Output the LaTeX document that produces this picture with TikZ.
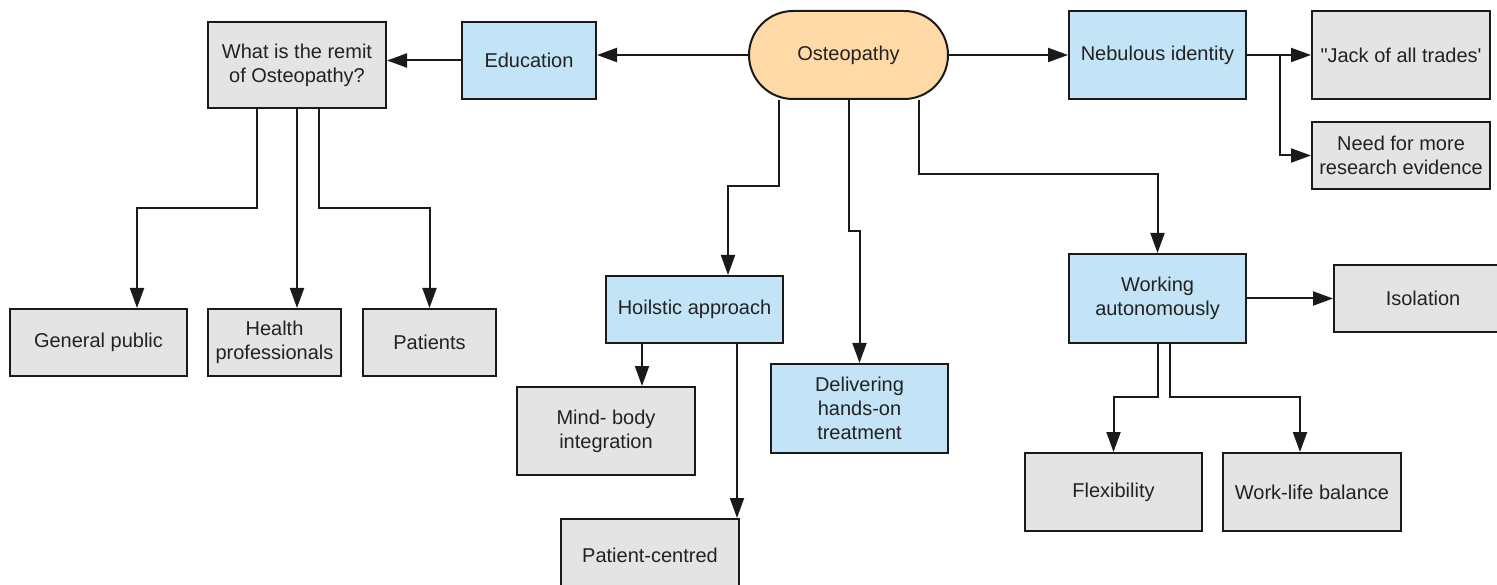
\documentclass[tikz,border=0pt]{standalone}
\usepackage{fontspec}
\setmainfont{Liberation Sans}[Ligatures=TeXOff]
\usetikzlibrary{arrows.meta}
\definecolor{bluefill}{HTML}{C2E4F6}
\definecolor{greyfill}{HTML}{E4E4E4}
\definecolor{orangefill}{HTML}{FFDAA6}
\definecolor{edge}{HTML}{1A1A1A}
\definecolor{ink}{HTML}{222222}
\tikzset{
  box/.style={draw=edge, line width=2pt, rectangle, inner sep=0pt, align=center,
    text=ink, font=\fontsize{20}{24}\selectfont},
  bluebox/.style={box, fill=bluefill},
  greybox/.style={box, fill=greyfill},
  hubbox/.style={box, fill=orangefill, rounded corners=44pt},
  arr/.style={draw=edge, line width=2pt, -{Triangle[length=20pt,width=14pt]}},
  plain/.style={draw=edge, line width=2pt}
}
\begin{document}
\begin{tikzpicture}[x=1pt,y=-1pt]
\useasboundingbox (0,0) rectangle (1497,585);
\clip (0,0) rectangle (1497,585);
% central topic
\node[hubbox, minimum width=199pt, minimum height=88pt] (ost) at (848.5,55) {Osteopathy};
% left branch
\node[bluebox, minimum width=134pt, minimum height=77pt] (edu) at (529,60.5) {Education};
\node[greybox, minimum width=178pt, minimum height=86pt] (remit) at (297,65) {What is the remit\\of Osteopathy?};
\node[greybox, minimum width=177pt, minimum height=67pt] (gp) at (98.5,342.5) {General public};
\node[greybox, minimum width=133pt, minimum height=67pt] (hp) at (274.5,342.5) {Health\\professionals};
\node[greybox, minimum width=133pt, minimum height=67pt] (pat) at (429.5,342.5) {Patients};
% right branch
\node[bluebox, minimum width=177pt, minimum height=88pt] (neb) at (1157.5,55) {Nebulous identity};
\node[greybox, minimum width=178pt, minimum height=88pt] (jack) at (1401,55) {"Jack of all trades'};
\node[greybox, minimum width=178pt, minimum height=67pt] (need) at (1401,155.5) {Need for more\\research evidence};
% lower branches
\node[bluebox, minimum width=177pt, minimum height=67pt] (hol) at (694.5,309.5) {Hoilstic approach};
\node[greybox, minimum width=178pt, minimum height=88pt] (mind) at (606,431) {Mind- body\\integration};
\node[greybox, minimum width=178pt, minimum height=82pt] (pc) at (650,560) {\raisebox{10pt}{Patient-centred}};
\node[bluebox, minimum width=177pt, minimum height=89pt] (del) at (859.5,408.5) {Delivering\\hands-on\\treatment};
\node[bluebox, minimum width=177pt, minimum height=89pt] (work) at (1157.5,298.5) {Working\\autonomously};
\node[greybox, minimum width=178pt, minimum height=67pt] (iso) at (1423,298.5) {Isolation};
\node[greybox, minimum width=177pt, minimum height=78pt] (flex) at (1113.5,492) {Flexibility};
\node[greybox, minimum width=178pt, minimum height=78pt] (wlb) at (1312,492) {Work-life balance};

% connectors from the central topic
\draw[arr] (ost.west) -- (ost.west -| edu.east);
\draw[arr] (edu.west) -- (edu.west -| remit.east);
\draw[arr] (ost.east) -- (neb.west);
\draw[arr] ([xshift=-69.5pt]ost.south) |- (728,186) -- ([xshift=33.5pt]hol.north);
\draw[arr] (ost.south) |- ([yshift=132pt]del.north) -- (del.north);
\draw[arr] ([xshift=70.5pt]ost.south) |- ([yshift=79pt]work.north) -- (work.north);
% remit of osteopathy
\draw[arr] ([xshift=-40pt]remit.south) |- ([xshift=38.5pt,yshift=100pt]gp.north) -- ([xshift=38.5pt]gp.north);
\draw[arr] (remit.south) -- ([xshift=22.5pt]hp.north);
\draw[arr] ([xshift=22pt]remit.south) |- ([yshift=100pt]pat.north) -- (pat.north);
% nebulous identity
\draw[arr] (neb.east) -- (jack.west);
\draw[arr] ([xshift=33pt]neb.east) |- (need.west);
% holistic approach
\draw[arr] ([xshift=-52.5pt]hol.south) -- ([xshift=36pt]mind.north);
\draw[arr] ([xshift=42.5pt]hol.south) -- ([xshift=87pt]pc.north);
% working autonomously
\draw[arr] (work.east) -- (iso.west);
\draw[arr] (work.south) |- ([yshift=55pt]flex.north) -- (flex.north);
\draw[arr] ([xshift=12.5pt]work.south) |- ([xshift=-12pt,yshift=55pt]wlb.north) -- ([xshift=-12pt]wlb.north);
\end{tikzpicture}
\end{document}
